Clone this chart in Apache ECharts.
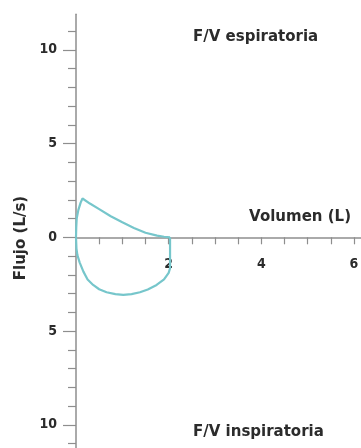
<!DOCTYPE html>
<html>
<head>
<meta charset="utf-8">
<script src="https://cdn.jsdelivr.net/npm/echarts@6/dist/echarts.min.js"></script>
<style>
html,body{margin:0;padding:0;background:#fff;}
#chart{width:361px;height:448px;}
</style>
</head>
<body>
<div id="chart"></div>
<script>
// ---- data ----
var expVolume = [0, 0.005, 0.015, 0.05, 0.1, 0.14, 0.3, 0.5, 0.75, 1.0, 1.25, 1.5, 1.75, 1.9, 2.03];
var expFlow   = [0, 0.5, 1.0, 1.45, 1.85, 2.07, 1.8, 1.5, 1.12, 0.8, 0.5, 0.24, 0.09, 0.03, 0];
var inspVolume = [2.03, 2.03, 2.0, 1.9, 1.74, 1.55, 1.38, 1.2, 1.02, 0.85, 0.66, 0.5, 0.37, 0.25, 0.16, 0.08, 0.03, 0.01, 0];
var inspFlow   = [0, -1.65, -1.9, -2.25, -2.54, -2.78, -2.93, -3.03, -3.07, -3.03, -2.93, -2.77, -2.54, -2.25, -1.83, -1.35, -0.95, -0.6, 0];
var xTicks = [0.5, 1, 1.5, 2, 2.5, 3, 3.5, 4, 4.5, 5, 5.5, 6];
var xTickLabels = [2, 4, 6];
var yMajorTicks = [-10, -5, 0, 5, 10];
var yMinorTicks = [-11, -9, -8, -7, -6, -4, -3, -2, -1, 1, 2, 3, 4, 6, 7, 8, 9, 11];
var yTickLabels = [-10, -5, 0, 5, 10];
var title1 = 'F/V espiratoria';
var title2 = 'F/V inspiratoria';
var xName = 'Volumen (L)';
var yName = 'Flujo (L/s)';

// ---- layout ----
var W = 361, H = 448;
var X0 = 76, UX = 46.33, Y0 = 237.3, UY = 18.75;
var xMin = 0, xMax = 6.25, yMin = -11.4, yMax = 11.9;
var gridBox = {
  left: X0 + xMin * UX,
  right: W - (X0 + xMax * UX),
  top: Y0 - yMax * UY,
  bottom: H - (Y0 - yMin * UY),
  containLabel: false,
  outerBoundsMode: 'none'
};
// grid whose bottom edge is the zero line, used to place the volume tick labels
var labelGridBox = {
  left: gridBox.left, right: gridBox.right, top: 0, bottom: H - Y0,
  containLabel: false, outerBoundsMode: 'none'
};
var axisColor = '#8e8e8e';
var lineColor = '#76c6cb';
var textColor = '#2b2b2b';
var titleFont = 'bold 15px "DejaVu Sans", sans-serif';
var tickFont = '"Liberation Sans Narrow", "DejaVu Sans Condensed", sans-serif';

function zip(a, b) { return a.map(function (v, i) { return [v, b[i]]; }); }

var chart = echarts.init(document.getElementById('chart'), null, {renderer: 'canvas'});
chart.setOption({
  animation: false,
  backgroundColor: '#ffffff',
  grid: [
    Object.assign({}, gridBox),
    Object.assign({}, gridBox),
    Object.assign({}, labelGridBox)
  ],
  xAxis: [
    {
      type: 'value', gridIndex: 0, min: xMin, max: xMax,
      axisLine: {show: true, onZero: true, lineStyle: {color: axisColor, width: 1.5}},
      axisTick: {show: true, customValues: xTicks, length: 7, lineStyle: {color: axisColor, width: 1.2}},
      axisLabel: {show: false},
      splitLine: {show: false}
    },
    {
      type: 'value', gridIndex: 1, min: xMin, max: xMax, show: false
    },
    {
      type: 'value', gridIndex: 2, min: xMin, max: xMax, position: 'bottom',
      axisLine: {show: false, onZero: false},
      axisTick: {show: false},
      axisLabel: {show: true, customValues: xTickLabels, margin: 20, color: textColor,
        fontFamily: tickFont, fontWeight: 'bold', fontSize: 14},
      splitLine: {show: false}
    }
  ],
  yAxis: [
    {
      type: 'value', gridIndex: 0, min: yMin, max: yMax,
      axisLine: {show: true, lineStyle: {color: axisColor, width: 1.5}},
      axisTick: {show: true, customValues: yMajorTicks, length: 13, lineStyle: {color: axisColor, width: 1.2}},
      axisLabel: {show: true, customValues: yTickLabels, margin: 19, color: textColor,
        fontFamily: tickFont, fontWeight: 'bold', fontSize: 14,
        formatter: function (v) { return String(Math.abs(v)); }},
      splitLine: {show: false}
    },
    {
      type: 'value', gridIndex: 1, min: yMin, max: yMax,
      axisLine: {show: false},
      axisTick: {show: true, customValues: yMinorTicks, length: 8, lineStyle: {color: axisColor, width: 1.2}},
      axisLabel: {show: false},
      splitLine: {show: false}
    },
    {
      type: 'value', gridIndex: 2, min: 0, max: 1, show: false
    }
  ],
  series: [
    {
      type: 'line', xAxisIndex: 0, yAxisIndex: 0, data: zip(expVolume, expFlow),
      showSymbol: false, symbol: 'none', smooth: false,
      lineStyle: {color: lineColor, width: 2.2}
    },
    {
      type: 'line', xAxisIndex: 0, yAxisIndex: 0, data: zip(inspVolume, inspFlow),
      showSymbol: false, symbol: 'none', smooth: false,
      lineStyle: {color: lineColor, width: 2.2}
    }
  ],
  graphic: [
    {type: 'text', x: 193, y: 37, style: {text: title1, font: titleFont, fill: textColor, textAlign: 'left', textVerticalAlign: 'middle'}},
    {type: 'text', x: 351, y: 217, style: {text: xName, font: titleFont, fill: textColor, textAlign: 'right', textVerticalAlign: 'middle'}},
    {type: 'text', x: 193, y: 432, style: {text: title2, font: titleFont, fill: textColor, textAlign: 'left', textVerticalAlign: 'middle'}},
    {type: 'text', x: 21, y: 238, rotation: Math.PI / 2, style: {text: yName, font: titleFont, fill: textColor, textAlign: 'center', textVerticalAlign: 'middle'}}
  ]
});
</script>
</body>
</html>
